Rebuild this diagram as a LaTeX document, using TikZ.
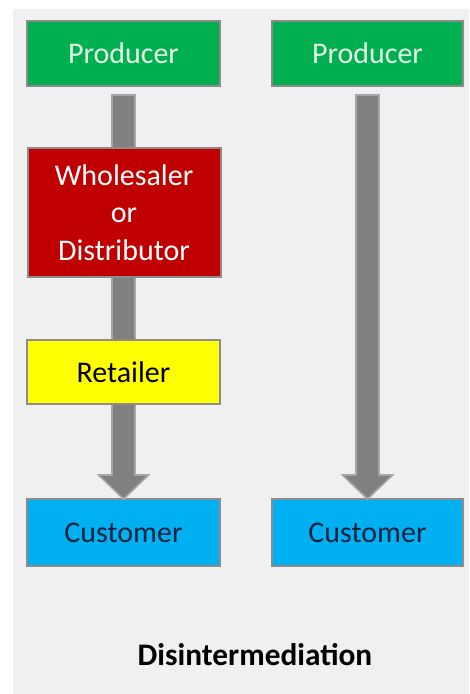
\documentclass[tikz,border=0pt]{standalone}
\usepackage{fontspec}
\setmainfont{Carlito}
\usepackage{xcolor}
\usepackage{tikz}
\usetikzlibrary{calc}

\definecolor{panelgray}{HTML}{F0F0F0}
\definecolor{boxedge}{HTML}{8C8C8C}
\definecolor{arrowgray}{HTML}{808080}
\definecolor{arrowedge}{HTML}{A6A6A6}
\definecolor{prodgreen}{HTML}{00B050}
\definecolor{wholered}{HTML}{C00000}
\definecolor{retailyellow}{HTML}{FFFF00}
\definecolor{custblue}{HTML}{00B0F0}
\definecolor{custtext}{HTML}{0C2340}
\definecolor{prodtext}{HTML}{E4F7E4}

\tikzset{
    chainbox/.style={draw=boxedge, line width=1.5pt, inner sep=0pt, outer sep=0pt,
        minimum width=144.75pt, align=center, font=\fontsize{22.5}{28}\selectfont},
    flowarrow/.style={fill=arrowgray, draw=arrowedge, line width=1.2pt, line join=miter}
}

% arrow from the bottom of one box to the top of another
\newcommand{\flowarrow}[2]{
    \filldraw[flowarrow] ($(#1.south)+(-11.5,9)$) -- ($(#2.north)+(-11.5,-24)$)
        -- ($(#2.north)+(-25,-24)$) -- (#2.north) -- ($(#2.north)+(25,-24)$)
        -- ($(#2.north)+(11.5,-24)$) -- ($(#1.south)+(11.5,9)$) -- cycle;
}

\begin{document}
\begin{tikzpicture}[x=0.75pt,y=-0.75pt]
    \useasboundingbox (0,0) rectangle (469,694);
    \fill[white] (0,0) rectangle (469,694);
    \fill[panelgray] (13,9) rectangle (469,694);

    % full chain
    \node[chainbox, fill=prodgreen, text=prodtext, minimum height=48.75pt] (prodL) at (123.5,53.5) {Producer};
    \node[chainbox, fill=custblue, text=custtext, minimum height=50.25pt] (custL) at (123.5,532.5) {Customer};
    \flowarrow{prodL}{custL}
    \node[chainbox, fill=wholered, text=white, minimum height=96.75pt,
        font=\fontsize{22.5}{28.2}\selectfont] (whole) at (124,212.5) {Wholesaler\\or\\Distributor};
    \node[chainbox, fill=retailyellow, text=black, minimum height=48pt] (retail) at (123.5,372) {Retailer};

    % direct chain
    \node[chainbox, fill=prodgreen, text=prodtext, minimum height=48.75pt, minimum width=143.25pt] (prodR) at (367.5,53.5) {Producer};
    \node[chainbox, fill=custblue, text=custtext, minimum height=50.25pt, minimum width=143.25pt] (custR) at (367.5,532.5) {Customer};
    \flowarrow{prodR}{custR}

    \node[font=\fontsize{23.5}{28}\selectfont\bfseries] (title) at (255,655) {Disintermediation};
\end{tikzpicture}
\end{document}
